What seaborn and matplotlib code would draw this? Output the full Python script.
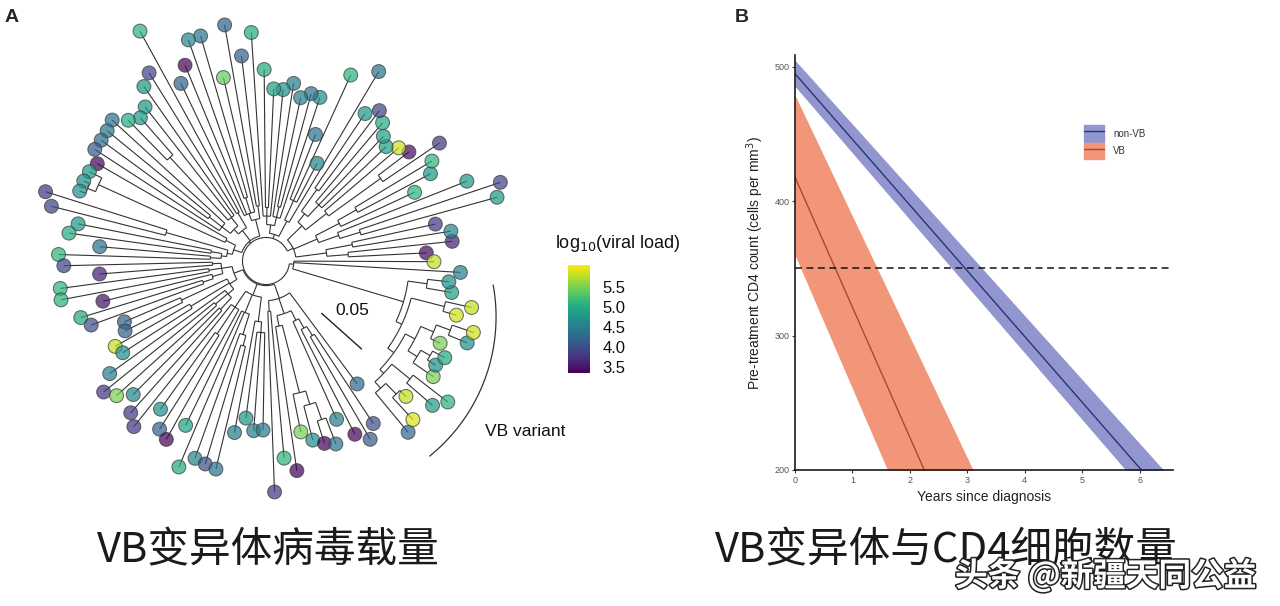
import numpy as np
import matplotlib
matplotlib.use('Agg')
import matplotlib.pyplot as plt
import matplotlib.patheffects as pe
from matplotlib.collections import LineCollection
from matplotlib.patches import Patch
from matplotlib.lines import Line2D
import seaborn as sns

sns.set_style('white')
plt.rcParams['font.family'] = ['Liberation Sans', 'Noto Sans CJK SC', 'DejaVu Sans']

# ---- panel A: tree tips in circular order (distance from root, log10 viral load)
tip_depth = [0.128, 0.153, 0.153, 0.140, 0.202, 0.209, 0.180, 0.131, 0.152, 0.159,
             0.174, 0.146, 0.141, 0.133, 0.138, 0.147, 0.154, 0.144, 0.184, 0.081,
             0.169, 0.105, 0.139, 0.140, 0.134, 0.146, 0.139, 0.139, 0.157, 0.192,
             0.171, 0.202, 0.154, 0.197, 0.197, 0.176, 0.162, 0.223, 0.185, 0.177,
             0.161, 0.156, 0.162, 0.173, 0.170, 0.169, 0.169, 0.160, 0.163, 0.164,
             0.164, 0.194, 0.185, 0.157, 0.164, 0.134, 0.172, 0.167, 0.134, 0.172,
             0.173, 0.135, 0.159, 0.152, 0.122, 0.125, 0.140, 0.137, 0.158, 0.173,
             0.166, 0.154, 0.168, 0.176, 0.148, 0.164, 0.169, 0.149, 0.187, 0.174,
             0.176, 0.178, 0.141, 0.126, 0.137, 0.136, 0.194, 0.163, 0.176, 0.141,
             0.151, 0.157, 0.161, 0.140, 0.160, 0.171, 0.160, 0.121, 0.186, 0.180,
             0.160, 0.184, 0.193, 0.168, 0.164, 0.168, 0.158, 0.181, 0.183, 0.163,
             0.175, 0.154, 0.150, 0.160, 0.135]
tip_vl = [3.45, 3.6, 4.6, 3.8, 4.8, 3.9, 4.8, 5.1, 4.8, 5.1,
          3.8, 3.45, 5.85, 4.9, 4.9, 5.0, 3.9, 4.8, 4.4, 4.6,
          5.1, 4.4, 4.7, 4.4, 4.5, 4.5, 4.7, 4.9, 5.0, 5.0,
          4.2, 4.2, 5.4, 4.4, 4.6, 3.4, 4.2, 5.1, 3.9, 4.8,
          4.8, 4.8, 5.0, 4.4, 4.4, 4.3, 4.1, 3.4, 4.8, 4.7,
          4.7, 3.8, 3.9, 4.8, 5.0, 4.4, 5.1, 3.9, 3.6, 5.1,
          5.1, 3.5, 5.0, 4.0, 4.2, 4.2, 5.8, 4.7, 4.5, 3.8,
          5.5, 4.6, 3.8, 3.8, 4.7, 4.2, 3.4, 4.9, 5.0, 4.6,
          4.0, 4.4, 4.5, 4.8, 4.5, 4.5, 3.8, 5.1, 3.4, 5.5,
          4.7, 3.4, 4.4, 4.5, 3.4, 4.1, 4.0, 4.3, 4.3, 5.9,
          5.8, 4.9, 5.1, 5.5, 4.7, 5.0, 5.5, 4.7, 5.85, 5.85,
          5.8, 4.9, 4.7, 4.5, 5.8]

# internal nodes: first tip, last tip, distance from root
clade_first = [0, 0, 0, 0, 2, 4, 4, 4, 7, 8, 10, 10, 10, 13, 13, 16,
               18, 18, 19, 22, 22, 23, 26, 27,
               30, 30, 30, 32, 33, 37, 37, 39, 39, 41, 43, 44, 47, 47, 48, 49, 51, 51, 53, 53, 55,
               57, 57, 57, 57, 59, 61, 62, 64, 64, 66, 68, 69, 71,
               73, 73, 74, 77, 79, 80, 82, 83,
               86, 86, 88, 88, 89, 90, 91, 93, 94, 95,
               98, 98, 111, 98, 109, 98, 103, 106, 107, 103, 104, 98, 101, 98, 99]
clade_last = [114, 17, 3, 1, 3, 9, 6, 5, 9, 9, 17, 12, 11, 17, 15, 17,
              29, 21, 21, 29, 25, 24, 29, 28,
              56, 36, 31, 36, 34, 46, 38, 46, 42, 42, 46, 45, 56, 50, 50, 50, 56, 52, 56, 54, 56,
              97, 72, 63, 58, 60, 63, 63, 72, 65, 67, 72, 70, 72,
              85, 76, 75, 81, 81, 81, 85, 85,
              97, 87, 96, 92, 92, 92, 92, 96, 96, 96,
              114, 112, 112, 110, 110, 108, 108, 108, 108, 105, 105, 102, 102, 100, 100]
clade_depth = [0.0, 0.006, 0.035, 0.055, 0.06, 0.03, 0.05, 0.07, 0.055, 0.075, 0.025, 0.05, 0.11, 0.035, 0.05, 0.06,
               0.004, 0.02, 0.04, 0.012, 0.02, 0.03, 0.02, 0.028,
               0.002, 0.018, 0.03, 0.025, 0.04, 0.014, 0.03, 0.02, 0.03, 0.11, 0.03, 0.045, 0.01, 0.02, 0.15, 0.158, 0.015, 0.075, 0.02, 0.03, 0.03,
               0.001, 0.01, 0.02, 0.028, 0.032, 0.03, 0.04, 0.018, 0.065, 0.06, 0.025, 0.04, 0.04,
               0.012, 0.03, 0.06, 0.03, 0.05, 0.06, 0.035, 0.045,
               0.015, 0.025, 0.03, 0.04, 0.105, 0.118, 0.135, 0.04, 0.05, 0.06,
               0.004, 0.112, 0.13, 0.118, 0.15, 0.125, 0.135, 0.148, 0.162, 0.145, 0.155, 0.13, 0.152, 0.138, 0.152]
vl_range = (3.35, 6.05)
vl_ticks = [3.5, 4.0, 4.5, 5.0, 5.5]

# ---- panel B: fitted CD4 decline with confidence bands
years_nonvb = [0.0, 6.5]
nonvb_fit = [495, 177]
nonvb_low = [485.6, 163]
nonvb_high = [505, 196]
years_vb = [0.0, 3.2]
vb_fit = [418, 108]
vb_low = [360, 42]
vb_high = [479, 191]
cd4_threshold = 350

# ---------------------------------------------------------------- tree layout
n_tip = len(tip_depth)
n_cl = len(clade_depth)
hole = 0.022
tip_ang = np.deg2rad(2.9 + np.arange(n_tip) * 360.0 / n_tip)
size = [clade_last[j] - clade_first[j] for j in range(n_cl)]


def smallest_containing(lo, hi, skip=None):
    best = None
    for k in range(n_cl):
        if k == skip or size[k] < hi - lo:
            continue
        if clade_first[k] <= lo and clade_last[k] >= hi:
            if skip is not None and size[k] == size[skip]:
                continue
            if best is None or size[k] < size[best]:
                best = k
    return best


clade_parent = [None if j == 0 else smallest_containing(clade_first[j], clade_last[j], j)
                for j in range(n_cl)]
tip_parent = [smallest_containing(i, i) for i in range(n_tip)]

node_ang, arc_lo, arc_hi = {}, {}, {}
for j in sorted(range(n_cl), key=lambda c: size[c]):
    angs = [tip_ang[i] for i in range(n_tip) if tip_parent[i] == j]
    angs += [node_ang[k] for k in range(n_cl) if clade_parent[k] == j]
    node_ang[j] = np.mean(angs)
    arc_lo[j], arc_hi[j] = min(angs), max(angs)


def polar(r, a):
    return r * np.cos(a), r * np.sin(a)


segs = []
for i in range(n_tip):
    r0 = clade_depth[tip_parent[i]] + hole
    r1 = tip_depth[i] + hole
    segs.append([polar(r0, tip_ang[i]), polar(r1, tip_ang[i])])
for j in range(1, n_cl):
    r0 = clade_depth[clade_parent[j]] + hole
    r1 = clade_depth[j] + hole
    segs.append([polar(r0, node_ang[j]), polar(r1, node_ang[j])])
for j in range(n_cl):
    a = np.linspace(arc_lo[j], arc_hi[j], 40)
    r = clade_depth[j] + hole
    segs.append(np.column_stack(polar(r, a)))

tip_x, tip_y = polar(np.array(tip_depth) + hole, tip_ang)

# ---------------------------------------------------------------- figure
W, H = 1280, 606
fig = plt.figure(figsize=(W / 100, H / 100), dpi=100)
fig.patch.set_facecolor('white')

px = 1070.0  # pixels per tree unit
cx, cy = 266, 261
axA = fig.add_axes([0, (H - 512) / H, 530 / W, 512 / H])
axA.set_xlim(-cx / px, (530 - cx) / px)
axA.set_ylim((cy - 512) / px, cy / px)
axA.axis('off')
axA.add_collection(LineCollection(segs, colors='#333333', linewidths=0.8, capstyle='butt'))
sns.scatterplot(x=tip_x, y=tip_y, hue=tip_vl, palette='viridis', hue_norm=vl_range,
                s=100, edgecolor='#3a3a3a', linewidth=0.75, alpha=0.72,
                legend=False, ax=axA, zorder=3)

# scale bar
sb0 = np.array([0.052, -0.0489])
sb_dir = np.deg2rad(-41.8)
sb1 = sb0 + 0.05 * np.array([np.cos(sb_dir), np.sin(sb_dir)])
axA.plot([sb0[0], sb1[0]], [sb0[1], sb1[1]], color='#222222', lw=1.0)
axA.text(0.0804, -0.0463, '0.05', fontsize=12.5, ha='center', va='center', color='#111111')

# VB bracket
t = np.deg2rad(np.linspace(-51, 10.3, 60))
axA.plot(0.0477 + 0.1673 * np.cos(t), -0.0523 + 0.1673 * np.sin(t), color='#333333', lw=0.9)
fig.text(485 / W, 1 - 432 / H, 'VB variant', fontsize=12.5, ha='left', va='center', color='#111111')

# colour bar
cax = fig.add_axes([568 / W, (H - 373) / H, 22 / W, 108 / H])
sm = plt.cm.ScalarMappable(norm=plt.Normalize(*vl_range), cmap='viridis')
cb = fig.colorbar(sm, cax=cax, ticks=vl_ticks)
cb.outline.set_visible(False)
cb.ax.tick_params(length=0, labelsize=12, pad=9, labelcolor='#111111')
fig.text(555 / W, 1 - 243 / H, 'log$_{10}$(viral load)', fontsize=13, ha='left', va='center',
         color='#111111')

fig.text(12 / W, 1 - 17 / H, 'A', fontsize=14, fontweight='bold', ha='center', va='center')

# ---------------------------------------------------------------- panel B
axB = fig.add_axes([795 / W, (H - 470) / H, 378 / W, 414.7 / H])
nonvb_col, nonvb_line = '#9296cf', '#2e3077'
vb_col, vb_line = '#f29679', '#b3452c'
axB.fill_between(years_nonvb, nonvb_low, nonvb_high, color=nonvb_col, lw=0, zorder=1)
axB.fill_between(years_vb, vb_low, vb_high, color=vb_col, lw=0, zorder=1)
sns.lineplot(x=years_nonvb, y=nonvb_fit, color=nonvb_line, lw=1.0, ax=axB, zorder=2)
sns.lineplot(x=years_vb, y=vb_fit, color=vb_line, lw=1.0, ax=axB, zorder=2)
axB.axhline(cd4_threshold, color='#111111', lw=1.1, ls=(0, (4.5, 3)), zorder=3)
axB.set_xlim(0, 6.58)
axB.set_ylim(200, 508.7)
axB.set_xticks(range(0, 7))
axB.set_yticks([200, 300, 400, 500])
for s in ['top', 'right']:
    axB.spines[s].set_visible(False)
for s in ['left', 'bottom']:
    axB.spines[s].set_color('#1a1a1a')
    axB.spines[s].set_linewidth(1.2)
axB.tick_params(direction='out', length=2.5, width=0.8, color='#333333',
                labelsize=6.5, labelcolor='#555555', pad=1.5, left=True, bottom=True)
axB.set_xlabel('Years since diagnosis', fontsize=10, color='#222222')
axB.set_ylabel('Pre-treatment CD4 count (cells per mm$^3$)', fontsize=10, color='#222222')
axB.xaxis.set_label_coords(0.5, -0.048)
axB.yaxis.set_label_coords(-0.078, 0.5)
handles = [(Patch(color=nonvb_col), Line2D([], [], color=nonvb_line, lw=1.0)),
           (Patch(color=vb_col), Line2D([], [], color=vb_line, lw=1.0))]
axB.legend(handles, ['non-VB', 'VB'], loc='upper left', bbox_to_anchor=(0.764, 0.831),
           frameon=False, fontsize=7, handlelength=2.1, handleheight=2.2,
           labelspacing=0.15, borderpad=0, borderaxespad=0, handletextpad=0.9,
           labelcolor='#333333')

fig.text(742 / W, 1 - 17 / H, 'B', fontsize=14, fontweight='bold', ha='center', va='center')

# ---------------------------------------------------------------- captions
cjk = ['Noto Sans CJK SC', 'DejaVu Sans']
fig.text(268 / W, 1 - 551 / H, 'VB变异体病毒载量', fontsize=30, family=cjk,
         fontweight='light', ha='center', va='center', color='#1a1a1a')
fig.text(715 / W, 1 - 551 / H, 'VB变异体与CD4细胞数量', fontsize=30, family=cjk,
         fontweight='light', ha='left', va='center', color='#1a1a1a')
fig.patches.append(plt.Rectangle((950 / W, 1 - 600 / H), 310 / W, 75 / H, transform=fig.transFigure,
                                 facecolor='white', alpha=0.55, lw=0))
fig.text(955 / W, 1 - 576 / H, '头条 @新疆天同公益', fontsize=23.5, family=cjk,
         fontweight='bold', ha='left', va='center', color='white',
         path_effects=[pe.withStroke(linewidth=2.2, foreground='#222222')])

fig.savefig('out.png', dpi=100, facecolor='white')
